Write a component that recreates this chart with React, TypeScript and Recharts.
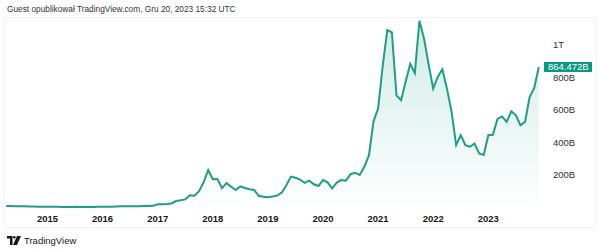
import React from "react";
import {
  Area,
  AreaChart,
  ReferenceLine,
  XAxis,
  YAxis,
} from "recharts";

// monthly market cap in billions USD
const v2014 = [9, 9, 8, 8, 7, 6, 6, 5, 5]; // Apr..Dec
const v2015 = [4, 4, 4, 3, 3, 3, 4, 3, 3, 3, 3, 4];
const v2016 = [5, 5, 5, 6, 7, 8, 8, 8, 8, 9, 9, 10];
const v2017 = [20, 20, 21, 25, 40, 44, 50, 75, 73, 100, 155, 231];
const v2018 = [174, 175, 120, 150, 128, 108, 130, 120, 112, 108, 72, 66];
const v2019 = [63, 68, 73, 91, 135, 190, 183, 172, 152, 165, 143, 132];
const v2020 = [169, 155, 118, 153, 169, 165, 205, 214, 200, 251, 320, 530];
const v2021 = [609, 870, 1092, 1078, 690, 660, 775, 884, 827, 1149, 1040, 880];
const v2022 = [731, 805, 850, 730, 590, 384, 445, 384, 374, 394, 333, 323];
const v2023 = [445, 447, 545, 560, 527, 592, 568, 506, 527, 680, 735, 864.472];

const years = [2014, 2015, 2016, 2017, 2018, 2019, 2020, 2021, 2022, 2023];
const series = [v2014, v2015, v2016, v2017, v2018, v2019, v2020, v2021, v2022, v2023];
const firstMonth2014 = 3; // April

const yearTicks = [2015, 2016, 2017, 2018, 2019, 2020, 2021, 2022, 2023];
const priceTicks = [200, 400, 600, 800, 1000];
const lastValue = 864.472;

const data = series.flatMap((vals, i) =>
  vals.map((v, j) => {
    const month = i === 0 ? j + firstMonth2014 : j;
    return { t: years[i] + month / 12, cap: v };
  })
);

const GREEN = "#089981";
const LINE = "#1f9d86";
const FONT = "-apple-system, 'Liberation Sans', Roboto, Arial, sans-serif";

const fmtCap = (v: number) => (v >= 1000 ? `${v / 1000}T` : `${v}B`);

function PriceTag(props: any) {
  const vb = props.viewBox || {};
  const x = vb.x + vb.width + 1;
  const y = vb.y;
  return (
    <g>
      <rect x={x} y={y - 5} width={48} height={10} fill={GREEN} />
      <text
        x={x + 4}
        y={y}
        dy="0.35em"
        fill="#fff"
        fontSize={9.5}
        fontFamily={FONT}
      >
        {`${lastValue}B`}
      </text>
    </g>
  );
}

function Logo() {
  return (
    <svg width={14} height={9} viewBox="0 0 14 9" style={{ display: "block" }}>
      <path d="M0 0h5.5v9H3V2.4H0z" fill="#131722" />
      <circle cx={7.3} cy={1.3} r={1.3} fill="#131722" />
      <path d="M10 0h4l-4 9H6z" fill="#131722" />
    </svg>
  );
}

export default function App() {
  return (
    <div
      style={{
        position: "absolute",
        left: 0,
        top: 0,
        width: 602,
        height: 251,
        background: "#fff",
        fontFamily: FONT,
        overflow: "hidden",
      }}
    >
      <div
        style={{
          position: "absolute",
          left: 7,
          top: 4,
          fontSize: 8.3,
          color: "#333",
          whiteSpace: "nowrap",
        }}
      >
        Guest opublikował TradingView.com, Gru 20, 2023 15:32 UTC
      </div>
      <div
        style={{
          position: "absolute",
          left: 3,
          top: 17,
          width: 592,
          height: 209,
          border: "1px solid #f0f0f0",
          borderRadius: 4,
        }}
      />
      <div style={{ position: "absolute", left: 0, top: 0 }}>
        <AreaChart
          width={602}
          height={230}
          data={data}
          margin={{ top: 17, right: 0, left: 5, bottom: 3 }}
        >
          <defs>
            <linearGradient id="capFill" x1="0" y1="0" x2="0" y2="1">
              <stop offset="0%" stopColor={GREEN} stopOpacity={0.32} />
              <stop offset="100%" stopColor={GREEN} stopOpacity={0.01} />
            </linearGradient>
          </defs>
          <XAxis
            dataKey="t"
            type="number"
            domain={[2014.2287, 2023.9927]}
            allowDataOverflow
            ticks={yearTicks}
            tickFormatter={(t: number) => String(t)}
            tick={{ fill: "#131722", fontSize: 9.5, fontWeight: 600, fontFamily: FONT }}
            tickLine={false}
            axisLine={false}
            tickSize={0}
            tickMargin={5}
            height={17}
          />
          <YAxis
            orientation="right"
            type="number"
            domain={[-15.4, 1172]}
            allowDataOverflow
            ticks={priceTicks}
            tickFormatter={fmtCap}
            tick={{ fill: "#2a2e39", fontSize: 9.5, fontFamily: FONT, textAnchor: "start" }}
            tickLine={false}
            axisLine={false}
            tickSize={0}
            tickMargin={10}
            width={59}
          />
          <Area
            type="linear"
            dataKey="cap"
            stroke={LINE}
            strokeWidth={2}
            fill="url(#capFill)"
            isAnimationActive={false}
            dot={false}
            activeDot={false}
          />
          <ReferenceLine
            y={lastValue}
            stroke="none"
            label={<PriceTag />}
          />
        </AreaChart>
      </div>
      <div
        style={{
          position: "absolute",
          left: 7,
          top: 235,
          display: "flex",
          alignItems: "center",
          gap: 3,
        }}
      >
        <Logo />
        <span style={{ fontSize: 9.5, color: "#131722" }}>TradingView</span>
      </div>
    </div>
  );
}
